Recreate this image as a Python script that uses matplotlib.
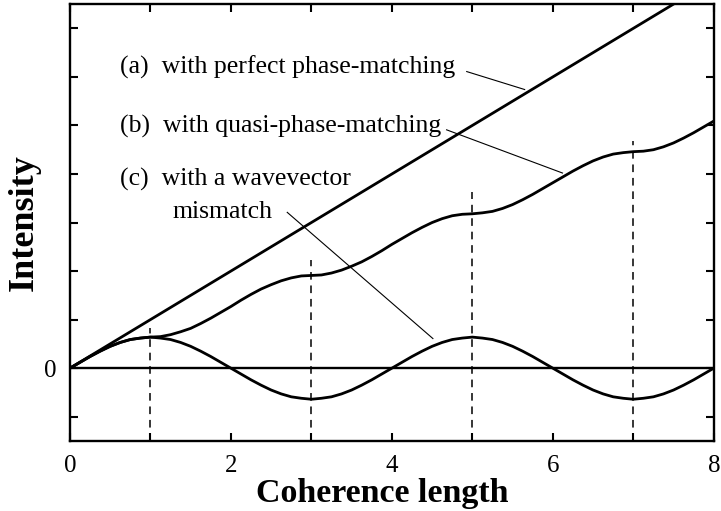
import matplotlib
matplotlib.use('Agg')
import matplotlib.pyplot as plt

# values, coherence lengths along x (step 1/8)
z = [0, 0.125, 0.25, 0.375, 0.5, 0.625, 0.75, 0.875, 1,
     1.125, 1.25, 1.375, 1.5, 1.625, 1.75, 1.875, 2,
     2.125, 2.25, 2.375, 2.5, 2.625, 2.75, 2.875, 3,
     3.125, 3.25, 3.375, 3.5, 3.625, 3.75, 3.875, 4,
     4.125, 4.25, 4.375, 4.5, 4.625, 4.75, 4.875, 5,
     5.125, 5.25, 5.375, 5.5, 5.625, 5.75, 5.875, 6,
     6.125, 6.25, 6.375, 6.5, 6.625, 6.75, 6.875, 7,
     7.125, 7.25, 7.375, 7.5, 7.625, 7.75, 7.875, 8]
quasi = [0, 0.12, 0.24, 0.35, 0.45, 0.53, 0.59, 0.62, 0.64,
         0.65, 0.69, 0.75, 0.82, 0.92, 1.03, 1.15, 1.27,
         1.40, 1.52, 1.63, 1.72, 1.80, 1.86, 1.90, 1.91,
         1.92, 1.96, 2.02, 2.10, 2.19, 2.30, 2.42, 2.55,
         2.67, 2.79, 2.90, 3.00, 3.08, 3.14, 3.17, 3.18,
         3.20, 3.23, 3.29, 3.37, 3.47, 3.58, 3.70, 3.82,
         3.94, 4.06, 4.17, 4.27, 4.35, 4.41, 4.44, 4.46,
         4.47, 4.50, 4.56, 4.64, 4.74, 4.85, 4.97, 5.09]
mismatch = [0, 0.12, 0.24, 0.35, 0.45, 0.53, 0.59, 0.62, 0.64,
            0.62, 0.59, 0.53, 0.45, 0.35, 0.24, 0.12, 0,
            -0.12, -0.24, -0.35, -0.45, -0.53, -0.59, -0.62, -0.64,
            -0.62, -0.59, -0.53, -0.45, -0.35, -0.24, -0.12, 0,
            0.12, 0.24, 0.35, 0.45, 0.53, 0.59, 0.62, 0.64,
            0.62, 0.59, 0.53, 0.45, 0.35, 0.24, 0.12, 0,
            -0.12, -0.24, -0.35, -0.45, -0.53, -0.59, -0.62, -0.64,
            -0.62, -0.59, -0.53, -0.45, -0.35, -0.24, -0.12, 0]
perfect_z = [0, 8]
perfect = [0, 8]

dash_x = [1, 3, 5, 7]
dash_top = [0.82, 2.22, 3.63, 4.67]

x_ticks = [0, 1, 2, 3, 4, 5, 6, 7, 8]
x_labels = ['0', '', '2', '', '4', '', '6', '', '8']
y_ticks = [-1, 0, 1, 2, 3, 4, 5, 6, 7]
y_labels = ['', '0', '', '', '', '', '', '', '']

plt.rcParams['font.family'] = ['Liberation Serif', 'DejaVu Serif']

fig = plt.figure(figsize=(7.21, 5.11), dpi=100)
ax = fig.add_axes([0.097, 0.137, 0.893, 0.855])

ax.plot(perfect_z, perfect, color='black', lw=2.0, solid_capstyle='butt')
ax.plot(z, quasi, color='black', lw=2.0)
ax.plot(z, mismatch, color='black', lw=2.0)
ax.axhline(0, color='black', lw=1.7)
for xd, top in zip(dash_x, dash_top):
    ax.plot([xd, xd], [-1.5, top], color='black', lw=1.1, dashes=(5, 3.8))

# labels with leader lines
ax.text(0.62, 6.19, '(a)  with perfect phase-matching', fontsize=18.5, va='center')
ax.plot([4.93, 5.65], [6.11, 5.74], color='black', lw=0.8)
ax.text(0.62, 4.97, '(b)  with quasi-phase-matching', fontsize=18.5, va='center')
ax.plot([4.68, 6.12], [4.91, 4.02], color='black', lw=0.8)
ax.text(0.62, 3.88, '(c)  with a wavevector', fontsize=18.5, va='center')
ax.text(1.27, 3.21, 'mismatch', fontsize=18.5, va='center')
ax.plot([2.70, 4.51], [3.21, 0.61], color='black', lw=0.8)

ax.set_xlim(0, 8)
ax.set_ylim(-1.5, 7.5)
ax.set_xticks(x_ticks)
ax.set_xticklabels(x_labels)
ax.set_yticks(y_ticks)
ax.set_yticklabels(y_labels)
ax.tick_params(direction='in', length=6, width=1.5, top=True, right=True,
               labelsize=18, pad=10)
for s in ax.spines.values():
    s.set_linewidth(1.7)

ax.set_xlabel('Coherence length', fontsize=24.5, fontweight='bold', labelpad=1)
ax.xaxis.label.set_x(0.485)
ax.set_ylabel('Intensity', fontsize=26, fontweight='bold', labelpad=2)

fig.savefig('out.png', dpi=100)
